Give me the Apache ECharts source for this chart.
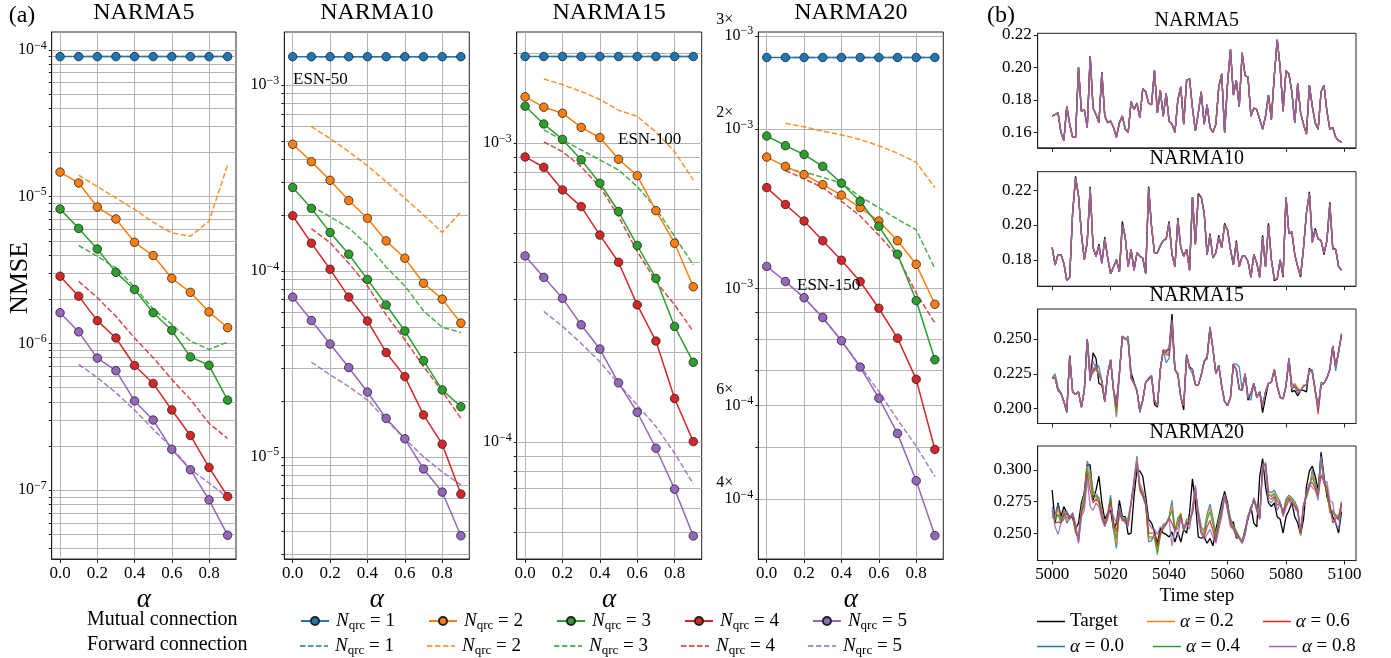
<!DOCTYPE html>
<html><head><meta charset="utf-8">
<script src="https://cdn.jsdelivr.net/npm/echarts@6/dist/echarts.min.js"></script>
<style>html,body{margin:0;padding:0;background:#fff}#c{width:1391px;height:658px}</style>
</head><body><div id="c"></div>
<script>
const FONT = "'Liberation Serif','DejaVu Serif',serif";
const COLORS = ['#1f77b4', '#ff7f0e', '#2ca02c', '#d62728', '#9467bd'];

// ---------- (a) NMSE vs alpha ----------
const alphaMutual = [0.0, 0.1, 0.2, 0.3, 0.4, 0.5, 0.6, 0.7, 0.8, 0.9];
const alphaForward = [0.1, 0.2, 0.3, 0.4, 0.5, 0.6, 0.7, 0.8, 0.9];
const xTicksA = [0.0, 0.2, 0.4, 0.6, 0.8];

const narma5_mutual_1 = [9.0e-5, 9.0e-5, 9.0e-5, 9.0e-5, 9.0e-5, 9.0e-5, 9.0e-5, 9.0e-5, 9.0e-5, 9.0e-5];
const narma5_mutual_2 = [1.47e-5, 1.24e-5, 8.5e-6, 7.05e-6, 4.89e-6, 3.97e-6, 2.78e-6, 2.23e-6, 1.64e-6, 1.28e-6];
const narma5_mutual_3 = [8.24e-6, 6.08e-6, 4.40e-6, 3.05e-6, 2.33e-6, 1.62e-6, 1.23e-6, 8.1e-7, 7.1e-7, 4.11e-7];
const narma5_mutual_4 = [2.87e-6, 2.10e-6, 1.43e-6, 1.09e-6, 7.08e-7, 5.34e-7, 3.52e-7, 2.36e-7, 1.43e-7, 9.06e-8];
const narma5_mutual_5 = [1.62e-6, 1.20e-6, 7.95e-7, 6.52e-7, 4.06e-7, 3.01e-7, 1.90e-7, 1.38e-7, 8.6e-8, 4.94e-8];
const narma5_forward_1 = [9.0e-5, 9.0e-5, 9.0e-5, 9.0e-5, 9.0e-5, 9.0e-5, 9.0e-5, 9.0e-5, 9.0e-5];
const narma5_forward_2 = [1.40e-5, 1.17e-5, 9.8e-6, 8.2e-6, 6.7e-6, 5.66e-6, 5.37e-6, 6.8e-6, 1.65e-5];
const narma5_forward_3 = [4.65e-6, 3.93e-6, 3.27e-6, 2.43e-6, 1.72e-6, 1.35e-6, 1.04e-6, 9.1e-7, 1.02e-6];
const narma5_forward_4 = [2.65e-6, 2.05e-6, 1.53e-6, 1.09e-6, 8.0e-7, 5.69e-7, 4.16e-7, 2.86e-7, 2.25e-7];
const narma5_forward_5 = [7.2e-7, 5.85e-7, 4.62e-7, 3.52e-7, 2.6e-7, 1.95e-7, 1.39e-7, 1.12e-7, 8.9e-8];

const narma10_mutual_1 = [1.42e-3, 1.42e-3, 1.42e-3, 1.42e-3, 1.42e-3, 1.42e-3, 1.42e-3, 1.42e-3, 1.42e-3, 1.42e-3];
const narma10_mutual_2 = [4.80e-4, 3.87e-4, 3.07e-4, 2.39e-4, 1.92e-4, 1.45e-4, 1.17e-4, 8.58e-5, 7.05e-5, 5.24e-5];
const narma10_mutual_3 = [2.81e-4, 2.17e-4, 1.61e-4, 1.23e-4, 9.0e-5, 6.56e-5, 4.75e-5, 3.29e-5, 2.29e-5, 1.86e-5];
const narma10_mutual_4 = [1.98e-4, 1.41e-4, 1.02e-4, 7.23e-5, 5.38e-5, 3.64e-5, 2.70e-5, 1.68e-5, 1.17e-5, 6.3e-6];
const narma10_mutual_5 = [7.23e-5, 5.41e-5, 4.04e-5, 3.02e-5, 2.23e-5, 1.61e-5, 1.25e-5, 8.6e-6, 6.46e-6, 3.76e-6];
const narma10_forward_1 = [1.42e-3, 1.42e-3, 1.42e-3, 1.42e-3, 1.42e-3, 1.42e-3, 1.42e-3, 1.42e-3, 1.42e-3];
const narma10_forward_2 = [5.97e-4, 5.16e-4, 4.38e-4, 3.68e-4, 3.02e-4, 2.46e-4, 2.0e-4, 1.61e-4, 2.08e-4];
const narma10_forward_3 = [2.23e-4, 1.96e-4, 1.70e-4, 1.38e-4, 1.05e-4, 8.3e-5, 6.1e-5, 4.98e-5, 4.66e-5];
const narma10_forward_4 = [1.69e-4, 1.42e-4, 1.10e-4, 8.3e-5, 5.8e-5, 4.26e-5, 3.06e-5, 2.25e-5, 1.61e-5];
const narma10_forward_5 = [3.23e-5, 2.76e-5, 2.39e-5, 2.02e-5, 1.58e-5, 1.25e-5, 1.0e-5, 8.3e-6, 7.06e-6];

const narma15_mutual_1 = [1.95e-3, 1.95e-3, 1.95e-3, 1.95e-3, 1.95e-3, 1.95e-3, 1.95e-3, 1.95e-3, 1.95e-3, 1.95e-3];
const narma15_mutual_2 = [1.43e-3, 1.32e-3, 1.26e-3, 1.13e-3, 1.045e-3, 8.84e-4, 7.79e-4, 5.95e-4, 4.63e-4, 3.31e-4];
const narma15_mutual_3 = [1.33e-3, 1.16e-3, 1.03e-3, 8.8e-4, 7.35e-4, 5.91e-4, 4.55e-4, 3.53e-4, 2.44e-4, 1.85e-4];
const narma15_mutual_4 = [9.0e-4, 8.31e-4, 6.98e-4, 6.14e-4, 4.93e-4, 4.0e-4, 2.88e-4, 2.18e-4, 1.40e-4, 1.005e-4];
const narma15_mutual_5 = [4.2e-4, 3.56e-4, 3.03e-4, 2.47e-4, 2.05e-4, 1.58e-4, 1.26e-4, 9.55e-5, 6.97e-5, 4.86e-5];
const narma15_forward_1 = [1.95e-3, 1.95e-3, 1.95e-3, 1.95e-3, 1.95e-3, 1.95e-3, 1.95e-3, 1.95e-3, 1.95e-3];
const narma15_forward_2 = [1.64e-3, 1.57e-3, 1.49e-3, 1.40e-3, 1.29e-3, 1.23e-3, 1.09e-3, 9.37e-4, 7.54e-4];
const narma15_forward_3 = [1.107e-3, 1.026e-3, 9.5e-4, 8.8e-4, 8.14e-4, 7.16e-4, 6.06e-4, 4.88e-4, 3.92e-4];
const narma15_forward_4 = [1.01e-3, 9.37e-4, 8.35e-4, 7.16e-4, 5.69e-4, 4.35e-4, 3.45e-4, 2.88e-4, 2.35e-4];
const narma15_forward_5 = [2.74e-4, 2.44e-4, 2.14e-4, 1.86e-4, 1.57e-4, 1.33e-4, 1.13e-4, 9.19e-5, 7.26e-5];

const narma20_mutual_1 = [2.73e-3, 2.73e-3, 2.73e-3, 2.73e-3, 2.73e-3, 2.73e-3, 2.73e-3, 2.73e-3, 2.73e-3, 2.73e-3];
const narma20_mutual_2 = [1.77e-3, 1.70e-3, 1.64e-3, 1.57e-3, 1.50e-3, 1.42e-3, 1.34e-3, 1.23e-3, 1.11e-3, 9.33e-4];
const narma20_mutual_3 = [1.94e-3, 1.86e-3, 1.79e-3, 1.70e-3, 1.58e-3, 1.46e-3, 1.31e-3, 1.16e-3, 9.48e-4, 7.33e-4];
const narma20_mutual_4 = [1.55e-3, 1.44e-3, 1.34e-3, 1.23e-3, 1.13e-3, 1.03e-3, 9.17e-4, 8.05e-4, 6.73e-4, 4.96e-4];
const narma20_mutual_5 = [1.10e-3, 1.03e-3, 9.6e-4, 8.81e-4, 7.96e-4, 7.1e-4, 6.2e-4, 5.32e-4, 4.33e-4, 3.41e-4];
const narma20_forward_1 = [2.73e-3, 2.73e-3, 2.73e-3, 2.73e-3, 2.73e-3, 2.73e-3, 2.73e-3, 2.73e-3, 2.73e-3];
const narma20_forward_2 = [2.05e-3, 2.02e-3, 1.98e-3, 1.95e-3, 1.91e-3, 1.86e-3, 1.80e-3, 1.73e-3, 1.55e-3];
const narma20_forward_3 = [1.68e-3, 1.66e-3, 1.62e-3, 1.58e-3, 1.49e-3, 1.42e-3, 1.35e-3, 1.29e-3, 1.09e-3];
const narma20_forward_4 = [1.67e-3, 1.61e-3, 1.55e-3, 1.46e-3, 1.37e-3, 1.26e-3, 1.15e-3, 9.79e-4, 8.6e-4];
const narma20_forward_5 = [1.03e-3, 9.6e-4, 8.78e-4, 7.96e-4, 7.13e-4, 6.38e-4, 5.65e-4, 5.03e-4, 4.41e-4];

// ---------- (b) time series ----------
const xTicksB = [5000, 5020, 5040, 5060, 5080, 5100];
const alphaLabels = ['0.0', '0.2', '0.4', '0.6', '0.8'];

const narma5_target = [0.170,0.171,0.172,0.160,0.155,0.176,0.165,0.157,0.157,0.200,0.173,0.174,0.163,0.207,0.175,0.171,0.166,0.197,0.170,0.166,0.167,0.163,0.157,0.166,0.170,0.162,0.160,0.179,0.174,0.178,0.169,0.187,0.185,0.178,0.177,0.198,0.172,0.186,0.170,0.184,0.167,0.165,0.160,0.180,0.188,0.165,0.192,0.193,0.175,0.161,0.172,0.185,0.165,0.177,0.163,0.160,0.165,0.188,0.196,0.160,0.190,0.211,0.183,0.192,0.176,0.209,0.195,0.194,0.170,0.175,0.174,0.168,0.162,0.170,0.183,0.168,0.195,0.217,0.200,0.173,0.198,0.196,0.185,0.166,0.190,0.172,0.165,0.159,0.189,0.176,0.166,0.162,0.185,0.189,0.173,0.162,0.163,0.157,0.155,0.154];
const narma10_target = [0.187,0.177,0.183,0.183,0.178,0.168,0.170,0.207,0.228,0.217,0.195,0.180,0.191,0.222,0.187,0.182,0.189,0.178,0.193,0.181,0.172,0.176,0.180,0.173,0.202,0.193,0.176,0.186,0.174,0.184,0.182,0.181,0.172,0.222,0.199,0.184,0.184,0.188,0.191,0.192,0.202,0.183,0.176,0.204,0.187,0.182,0.186,0.174,0.216,0.189,0.218,0.216,0.207,0.183,0.195,0.181,0.184,0.194,0.187,0.201,0.197,0.186,0.177,0.191,0.176,0.182,0.182,0.179,0.170,0.183,0.178,0.170,0.194,0.176,0.201,0.180,0.168,0.169,0.180,0.170,0.216,0.195,0.196,0.183,0.176,0.170,0.187,0.207,0.219,0.191,0.198,0.192,0.191,0.183,0.191,0.213,0.187,0.186,0.176,0.174];
const narma10_pred = [0.187,0.177,0.183,0.183,0.178,0.168,0.170,0.207,0.227,0.217,0.195,0.180,0.190,0.221,0.187,0.182,0.188,0.178,0.192,0.181,0.172,0.176,0.180,0.173,0.200,0.193,0.176,0.186,0.174,0.184,0.182,0.181,0.172,0.221,0.199,0.184,0.184,0.188,0.191,0.192,0.201,0.183,0.176,0.203,0.187,0.182,0.186,0.174,0.216,0.189,0.217,0.216,0.207,0.183,0.194,0.181,0.184,0.193,0.187,0.200,0.197,0.186,0.177,0.190,0.176,0.182,0.182,0.179,0.170,0.183,0.178,0.170,0.193,0.176,0.200,0.180,0.169,0.169,0.180,0.171,0.216,0.195,0.196,0.183,0.176,0.171,0.187,0.207,0.218,0.190,0.197,0.192,0.191,0.184,0.191,0.212,0.186,0.186,0.176,0.174];

const narma15_target = [0.222,0.222,0.213,0.211,0.205,0.198,0.238,0.212,0.210,0.212,0.201,0.213,0.250,0.220,0.240,0.236,0.218,0.217,0.205,0.225,0.235,0.213,0.204,0.225,0.252,0.250,0.249,0.226,0.219,0.213,0.198,0.206,0.219,0.221,0.223,0.203,0.201,0.228,0.242,0.241,0.243,0.268,0.228,0.225,0.208,0.199,0.238,0.230,0.228,0.217,0.217,0.224,0.234,0.236,0.258,0.243,0.225,0.231,0.216,0.205,0.202,0.208,0.232,0.228,0.214,0.213,0.225,0.206,0.211,0.218,0.208,0.212,0.197,0.208,0.218,0.219,0.228,0.216,0.208,0.207,0.216,0.236,0.212,0.213,0.209,0.213,0.213,0.212,0.229,0.226,0.213,0.201,0.217,0.218,0.222,0.228,0.245,0.230,0.241,0.253];
const narma15_a00 = [0.222,0.225,0.215,0.211,0.205,0.197,0.238,0.212,0.210,0.212,0.201,0.213,0.250,0.228,0.226,0.232,0.230,0.220,0.205,0.225,0.235,0.213,0.194,0.225,0.252,0.250,0.252,0.222,0.218,0.213,0.197,0.206,0.219,0.222,0.224,0.206,0.202,0.228,0.242,0.233,0.236,0.258,0.228,0.224,0.208,0.202,0.239,0.229,0.225,0.217,0.217,0.224,0.234,0.238,0.259,0.243,0.225,0.231,0.216,0.205,0.202,0.208,0.232,0.232,0.230,0.213,0.225,0.208,0.206,0.218,0.208,0.212,0.202,0.212,0.218,0.219,0.228,0.216,0.208,0.207,0.216,0.235,0.214,0.216,0.211,0.213,0.216,0.217,0.228,0.228,0.213,0.201,0.219,0.218,0.222,0.228,0.245,0.227,0.241,0.254];
const narma15_a02 = [0.222,0.223,0.213,0.211,0.205,0.198,0.238,0.212,0.210,0.212,0.201,0.213,0.250,0.224,0.229,0.230,0.226,0.220,0.205,0.225,0.235,0.213,0.196,0.225,0.252,0.250,0.250,0.222,0.218,0.213,0.198,0.206,0.219,0.221,0.223,0.206,0.202,0.228,0.242,0.242,0.244,0.260,0.228,0.225,0.208,0.202,0.238,0.229,0.228,0.217,0.217,0.224,0.234,0.236,0.258,0.243,0.225,0.231,0.216,0.205,0.202,0.208,0.232,0.228,0.214,0.213,0.225,0.208,0.211,0.218,0.208,0.212,0.202,0.212,0.218,0.219,0.228,0.216,0.208,0.207,0.216,0.236,0.214,0.218,0.215,0.213,0.217,0.217,0.228,0.226,0.213,0.201,0.217,0.218,0.222,0.228,0.245,0.230,0.241,0.253];
const narma15_a04 = [0.222,0.222,0.213,0.211,0.205,0.197,0.238,0.212,0.210,0.212,0.201,0.213,0.250,0.222,0.226,0.228,0.225,0.220,0.205,0.225,0.235,0.213,0.198,0.225,0.252,0.250,0.249,0.222,0.218,0.213,0.198,0.206,0.219,0.221,0.223,0.206,0.202,0.228,0.242,0.240,0.240,0.261,0.228,0.225,0.208,0.202,0.238,0.229,0.228,0.217,0.217,0.224,0.234,0.236,0.258,0.243,0.225,0.231,0.216,0.205,0.202,0.208,0.232,0.228,0.214,0.213,0.225,0.208,0.211,0.218,0.208,0.212,0.202,0.212,0.218,0.219,0.228,0.216,0.208,0.207,0.216,0.236,0.214,0.217,0.214,0.213,0.216,0.217,0.228,0.226,0.213,0.199,0.217,0.218,0.222,0.228,0.245,0.230,0.241,0.253];
const narma15_a06 = [0.222,0.222,0.213,0.211,0.205,0.198,0.238,0.212,0.210,0.212,0.201,0.213,0.250,0.221,0.228,0.229,0.224,0.220,0.205,0.225,0.235,0.213,0.201,0.225,0.252,0.250,0.249,0.222,0.218,0.213,0.198,0.206,0.219,0.221,0.223,0.206,0.202,0.228,0.242,0.239,0.238,0.262,0.228,0.225,0.208,0.202,0.239,0.229,0.228,0.217,0.217,0.224,0.234,0.236,0.258,0.243,0.225,0.231,0.216,0.205,0.202,0.208,0.232,0.228,0.214,0.213,0.225,0.208,0.211,0.218,0.208,0.212,0.202,0.212,0.218,0.219,0.228,0.216,0.208,0.207,0.216,0.236,0.218,0.216,0.213,0.213,0.216,0.217,0.228,0.226,0.213,0.196,0.217,0.218,0.222,0.228,0.245,0.230,0.241,0.253];
const narma15_a08 = [0.222,0.222,0.213,0.211,0.205,0.198,0.237,0.212,0.210,0.212,0.201,0.213,0.250,0.220,0.234,0.229,0.224,0.220,0.205,0.225,0.235,0.213,0.204,0.225,0.252,0.250,0.249,0.222,0.218,0.213,0.198,0.206,0.219,0.221,0.223,0.206,0.202,0.228,0.242,0.241,0.242,0.264,0.228,0.225,0.208,0.202,0.238,0.229,0.228,0.217,0.217,0.224,0.234,0.236,0.258,0.243,0.225,0.231,0.216,0.205,0.202,0.208,0.232,0.228,0.214,0.213,0.225,0.208,0.211,0.218,0.208,0.212,0.202,0.212,0.218,0.219,0.228,0.216,0.208,0.207,0.216,0.236,0.214,0.216,0.211,0.213,0.216,0.217,0.228,0.226,0.213,0.201,0.217,0.218,0.222,0.228,0.245,0.230,0.241,0.253];

const narma20_target = [0.284,0.258,0.274,0.263,0.271,0.266,0.263,0.262,0.253,0.258,0.274,0.282,0.304,0.304,0.276,0.284,0.295,0.274,0.261,0.266,0.268,0.253,0.258,0.276,0.263,0.263,0.249,0.250,0.279,0.300,0.299,0.295,0.279,0.261,0.258,0.251,0.242,0.254,0.250,0.249,0.247,0.251,0.243,0.251,0.243,0.253,0.250,0.266,0.293,0.274,0.247,0.246,0.247,0.242,0.246,0.240,0.253,0.263,0.274,0.283,0.274,0.258,0.259,0.246,0.247,0.243,0.253,0.261,0.271,0.258,0.255,0.295,0.309,0.287,0.274,0.271,0.274,0.263,0.261,0.250,0.263,0.268,0.274,0.263,0.258,0.249,0.261,0.287,0.299,0.303,0.295,0.284,0.314,0.295,0.279,0.271,0.263,0.258,0.250,0.267];
const narma20_a00 = [0.262,0.265,0.273,0.260,0.268,0.258,0.262,0.264,0.250,0.247,0.270,0.283,0.307,0.300,0.283,0.281,0.278,0.268,0.258,0.264,0.280,0.252,0.238,0.270,0.262,0.260,0.262,0.275,0.292,0.311,0.285,0.280,0.274,0.243,0.244,0.250,0.238,0.250,0.257,0.258,0.263,0.276,0.252,0.262,0.265,0.253,0.261,0.262,0.265,0.282,0.268,0.255,0.252,0.265,0.273,0.262,0.248,0.262,0.270,0.281,0.272,0.262,0.256,0.252,0.247,0.243,0.252,0.264,0.270,0.276,0.268,0.262,0.300,0.306,0.283,0.282,0.284,0.279,0.275,0.265,0.277,0.280,0.278,0.275,0.270,0.248,0.273,0.278,0.286,0.300,0.290,0.282,0.308,0.292,0.285,0.266,0.268,0.264,0.260,0.275];
const narma20_a02 = [0.264,0.262,0.270,0.259,0.267,0.260,0.262,0.265,0.251,0.246,0.268,0.280,0.303,0.296,0.281,0.280,0.277,0.267,0.257,0.265,0.277,0.254,0.242,0.267,0.261,0.261,0.260,0.274,0.290,0.309,0.284,0.279,0.272,0.245,0.246,0.248,0.236,0.249,0.256,0.257,0.262,0.272,0.252,0.260,0.266,0.252,0.259,0.261,0.266,0.284,0.266,0.253,0.250,0.263,0.270,0.260,0.246,0.260,0.268,0.280,0.271,0.260,0.255,0.251,0.247,0.243,0.251,0.263,0.269,0.277,0.268,0.262,0.302,0.305,0.281,0.280,0.282,0.277,0.274,0.266,0.276,0.279,0.277,0.273,0.269,0.249,0.272,0.279,0.287,0.297,0.289,0.281,0.309,0.291,0.283,0.268,0.267,0.265,0.262,0.274];
const narma20_a04 = [0.266,0.260,0.265,0.258,0.266,0.262,0.262,0.266,0.253,0.245,0.266,0.277,0.300,0.292,0.278,0.279,0.276,0.265,0.256,0.266,0.278,0.256,0.246,0.266,0.260,0.262,0.259,0.274,0.289,0.306,0.284,0.279,0.272,0.247,0.247,0.246,0.233,0.248,0.255,0.257,0.262,0.268,0.252,0.258,0.265,0.252,0.258,0.260,0.267,0.285,0.264,0.251,0.249,0.260,0.267,0.257,0.245,0.259,0.267,0.279,0.270,0.259,0.254,0.250,0.247,0.243,0.250,0.263,0.268,0.277,0.269,0.262,0.303,0.304,0.280,0.279,0.281,0.275,0.274,0.266,0.275,0.278,0.276,0.272,0.268,0.250,0.272,0.280,0.288,0.294,0.288,0.280,0.310,0.290,0.282,0.270,0.266,0.264,0.263,0.274];
const narma20_a06 = [0.268,0.258,0.259,0.258,0.264,0.265,0.261,0.266,0.255,0.243,0.265,0.273,0.297,0.284,0.274,0.277,0.274,0.263,0.256,0.264,0.275,0.259,0.251,0.268,0.260,0.260,0.257,0.274,0.289,0.306,0.286,0.281,0.273,0.250,0.250,0.250,0.240,0.251,0.254,0.257,0.262,0.258,0.252,0.254,0.263,0.253,0.258,0.257,0.268,0.286,0.263,0.250,0.247,0.255,0.260,0.252,0.243,0.256,0.265,0.279,0.269,0.257,0.253,0.249,0.246,0.242,0.249,0.263,0.268,0.277,0.270,0.261,0.304,0.304,0.278,0.277,0.279,0.272,0.274,0.265,0.272,0.277,0.274,0.271,0.268,0.251,0.271,0.281,0.289,0.290,0.285,0.279,0.296,0.290,0.286,0.273,0.258,0.262,0.262,0.273];
const narma20_a08 = [0.271,0.255,0.249,0.258,0.261,0.268,0.261,0.266,0.258,0.242,0.263,0.268,0.293,0.271,0.268,0.274,0.271,0.261,0.255,0.261,0.271,0.263,0.258,0.271,0.261,0.258,0.255,0.274,0.289,0.307,0.289,0.284,0.274,0.258,0.254,0.253,0.249,0.255,0.253,0.258,0.261,0.240,0.253,0.247,0.261,0.254,0.257,0.253,0.271,0.288,0.261,0.250,0.245,0.249,0.253,0.247,0.242,0.253,0.263,0.279,0.268,0.255,0.253,0.247,0.246,0.242,0.249,0.263,0.268,0.278,0.271,0.261,0.305,0.303,0.276,0.274,0.278,0.268,0.274,0.263,0.270,0.276,0.271,0.269,0.267,0.253,0.271,0.283,0.289,0.286,0.284,0.276,0.311,0.289,0.291,0.276,0.274,0.258,0.253,0.271];

// ---------- layout ----------
const panelsA = [
  { name: 'NARMA5', left: 51.7, width: 184.3, yMin: 3.40e-8, yMax: 1.324e-4, yLabels: [1e-7, 1e-6, 1e-5, 1e-4],
    mutual: [narma5_mutual_1, narma5_mutual_2, narma5_mutual_3, narma5_mutual_4, narma5_mutual_5],
    forward: [narma5_forward_1, narma5_forward_2, narma5_forward_3, narma5_forward_4, narma5_forward_5] },
  { name: 'NARMA10', left: 284.3, width: 185, yMin: 2.82e-6, yMax: 1.928e-3, yLabels: [1e-5, 1e-4, 1e-3],
    mutual: [narma10_mutual_1, narma10_mutual_2, narma10_mutual_3, narma10_mutual_4, narma10_mutual_5],
    forward: [narma10_forward_1, narma10_forward_2, narma10_forward_3, narma10_forward_4, narma10_forward_5] },
  { name: 'NARMA15', left: 516.7, width: 185, yMin: 4.07e-5, yMax: 2.355e-3, yLabels: [1e-4, 1e-3],
    mutual: [narma15_mutual_1, narma15_mutual_2, narma15_mutual_3, narma15_mutual_4, narma15_mutual_5],
    forward: [narma15_forward_1, narma15_forward_2, narma15_forward_3, narma15_forward_4, narma15_forward_5] },
  { name: 'NARMA20', left: 758.3, width: 185, yMin: 3.08e-4, yMax: 3.05e-3, yLabels: [4e-4, 6e-4, 1e-3, 2e-3, 3e-3],
    mutual: [narma20_mutual_1, narma20_mutual_2, narma20_mutual_3, narma20_mutual_4, narma20_mutual_5],
    forward: [narma20_forward_1, narma20_forward_2, narma20_forward_3, narma20_forward_4, narma20_forward_5] }
];
const TOP_A = 32, H_A = 527;

const panelsB = [
  { name: 'NARMA5', top: 33.3, yMin: 0.1505, yMax: 0.221, yTicks: [0.16, 0.18, 0.20, 0.22], dec: 2,
    target: narma5_target, preds: [narma5_target, narma5_target, narma5_target, narma5_target, narma5_target] },
  { name: 'NARMA10', top: 171.7, yMin: 0.1648, yMax: 0.2306, yTicks: [0.18, 0.20, 0.22], dec: 2,
    target: narma10_target, preds: [narma10_pred, narma10_pred, narma10_pred, narma10_pred, narma10_pred] },
  { name: 'NARMA15', top: 309, yMin: 0.1892, yMax: 0.2716, yTicks: [0.200, 0.225, 0.250], dec: 3,
    target: narma15_target, preds: [narma15_a00, narma15_a02, narma15_a04, narma15_a06, narma15_a08] },
  { name: 'NARMA20', top: 446, yMin: 0.2284, yMax: 0.3189, yTicks: [0.250, 0.275, 0.300], dec: 3,
    target: narma20_target, preds: [narma20_a00, narma20_a02, narma20_a04, narma20_a06, narma20_a08] }
];
const LEFT_B = 1037.7, W_B = 318.3, H_B = 114.5;
const timeSteps = narma5_target.map((_, i) => 5000 + i);

function logTicks(lo, hi) {
  const out = [];
  for (let e = Math.floor(Math.log10(lo)); e <= Math.ceil(Math.log10(hi)); e++) {
    for (let m = 1; m < 10; m++) {
      const v = m * Math.pow(10, e);
      if (v >= lo && v <= hi) out.push(v);
    }
  }
  return out;
}
function logLabel(v) {
  const e = Math.floor(Math.log10(v) + 1e-9);
  const m = Math.round(v / Math.pow(10, e));
  const ex = '{b|10}{s|\u2212' + (-e) + '}';
  if (m === 1) return ex;
  return '{m|' + m + '\u00d7}\n' + ex + '\n{m| }';
}
const logRich = {
  b: { fontFamily: FONT, fontSize: 16, color: '#000', lineHeight: 16 },
  s: { fontFamily: FONT, fontSize: 12, color: '#000', lineHeight: 16, padding: [0, 0, 9, 0] },
  m: { fontFamily: FONT, fontSize: 16, color: '#000', lineHeight: 16, padding: [0, 20, 0, 0] }
};
const AX = '#222', GRIDC = '#b4b4b4';

const grid = [], xAxis = [], yAxis = [], series = [], graphic = [];

panelsA.forEach((p, k) => {
  grid.push({ left: p.left, top: TOP_A, width: p.width, height: H_A, show: true, borderColor: AX, borderWidth: 1, backgroundColor: 'transparent' });
  xAxis.push({
    type: 'value', gridIndex: k, min: -0.045, max: 0.945,
    axisLine: { show: true, onZero: false, lineStyle: { color: AX, width: 1 } },
    axisTick: { show: true, customValues: xTicksA, length: 4, lineStyle: { color: AX } },
    axisLabel: { customValues: xTicksA, formatter: v => v.toFixed(1), fontFamily: FONT, fontSize: 17, color: '#000', margin: 6 },
    splitLine: { show: true, lineStyle: { color: GRIDC, width: 1 } },
    name: '\u03b1', nameLocation: 'middle', nameGap: 23,
    nameTextStyle: { fontFamily: FONT, fontSize: 27, fontStyle: 'italic', color: '#000' }
  });
  yAxis.push({
    type: 'log', logBase: 10, gridIndex: k, min: p.yMin, max: p.yMax,
    axisLine: { show: true, onZero: false, lineStyle: { color: AX, width: 1 } },
    axisTick: { show: true, customValues: logTicks(p.yMin, p.yMax), length: 3, lineStyle: { color: AX } },
    axisLabel: { customValues: p.yLabels, formatter: logLabel, rich: logRich, margin: 5, color: '#000' },
    splitLine: { show: true, lineStyle: { color: GRIDC, width: 1 } },
    minorTick: { show: false }, minorSplitLine: { show: false }
  });
  p.forward.forEach((arr, n) => {
    series.push({
      type: 'line', name: 'Forward ' + (n + 1), xAxisIndex: k, yAxisIndex: k,
      data: alphaForward.map((a, i) => [a, arr[i]]),
      symbol: 'none', showSymbol: false,
      lineStyle: { color: COLORS[n], width: 1.5, type: [5.5, 2.4], opacity: 0.85 },
      itemStyle: { color: COLORS[n] }, z: 2, animation: false, silent: true
    });
  });
  p.mutual.forEach((arr, n) => {
    series.push({
      type: 'line', name: 'Mutual ' + (n + 1), xAxisIndex: k, yAxisIndex: k,
      data: alphaMutual.map((a, i) => [a, arr[i]]),
      symbol: 'circle', symbolSize: 8.5, showSymbol: true,
      lineStyle: { color: COLORS[n], width: 1.5 },
      itemStyle: { color: COLORS[n], borderColor: '#222', borderWidth: 0.8 },
      z: 3, animation: false, silent: true
    });
  });
  graphic.push({ type: 'text', x: p.left + p.width / 2, y: 13,
    style: { text: p.name, fontFamily: FONT, fontSize: 24, fill: '#000', textAlign: 'center', textVerticalAlign: 'middle' } });
});

panelsB.forEach((p, j) => {
  const k = panelsA.length + j;
  const last = j === panelsB.length - 1;
  grid.push({ left: LEFT_B, top: p.top, width: W_B, height: H_B, show: true, borderColor: AX, borderWidth: 1, backgroundColor: 'transparent' });
  xAxis.push({
    type: 'value', gridIndex: k, min: 4995.05, max: 5103.95,
    axisLine: { show: true, onZero: false, lineStyle: { color: AX } },
    axisTick: { show: true, customValues: xTicksB, length: 4, lineStyle: { color: AX } },
    axisLabel: { show: last, customValues: xTicksB, formatter: v => String(Math.round(v)), fontFamily: FONT, fontSize: 17, color: '#000', margin: 6 },
    splitLine: { show: false },
    name: last ? 'Time step' : '', nameLocation: 'middle', nameGap: 26,
    nameTextStyle: { fontFamily: FONT, fontSize: 19, color: '#000' }
  });
  yAxis.push({
    type: 'value', gridIndex: k, min: p.yMin, max: p.yMax,
    axisLine: { show: true, onZero: false, lineStyle: { color: AX } },
    axisTick: { show: true, customValues: p.yTicks, length: 4, lineStyle: { color: AX } },
    axisLabel: { customValues: p.yTicks, formatter: v => v.toFixed(p.dec), fontFamily: FONT, fontSize: 17, color: '#000', margin: 6 },
    splitLine: { show: false }
  });
  series.push({
    type: 'line', name: 'Target', xAxisIndex: k, yAxisIndex: k,
    data: timeSteps.map((t, i) => [t, p.target[i]]), symbol: 'none', showSymbol: false,
    lineStyle: { color: '#000', width: 1.3 }, itemStyle: { color: '#000' }, z: 2, animation: false, silent: true
  });
  p.preds.forEach((arr, n) => {
    series.push({
      type: 'line', name: '\u03b1 = ' + alphaLabels[n], xAxisIndex: k, yAxisIndex: k,
      data: timeSteps.map((t, i) => [t, arr[i]]), symbol: 'none', showSymbol: false,
      lineStyle: { color: COLORS[n], width: 1.3, opacity: 0.85 }, itemStyle: { color: COLORS[n] },
      z: 3 + n, animation: false, silent: true
    });
  });
  graphic.push({ type: 'text', x: LEFT_B + W_B / 2, y: p.top - 13,
    style: { text: p.name, fontFamily: FONT, fontSize: 20, fill: '#000', textAlign: 'center', textVerticalAlign: 'middle' } });
});

// annotations
const notes = [
  { text: 'ESN-50', x: 293, y: 80 },
  { text: 'ESN-100', x: 618, y: 140 },
  { text: 'ESN-150', x: 797, y: 286 }
];
notes.forEach(n => graphic.push({ type: 'text', x: n.x, y: n.y, z: 10,
  style: { text: n.text, fontFamily: FONT, fontSize: 17, fill: '#000', textAlign: 'left', textVerticalAlign: 'middle' } }));
graphic.push({ type: 'text', x: 22, y: 16, style: { text: '(a)', fontFamily: FONT, fontSize: 24, fill: '#000', textAlign: 'center', textVerticalAlign: 'middle' } });
graphic.push({ type: 'text', x: 1001, y: 16, style: { text: '(b)', fontFamily: FONT, fontSize: 24, fill: '#000', textAlign: 'center', textVerticalAlign: 'middle' } });
graphic.push({ type: 'text', x: 20, y: 278, rotation: Math.PI / 2,
  style: { text: 'NMSE', fontFamily: FONT, fontSize: 26, fill: '#000', textAlign: 'center', textVerticalAlign: 'middle' } });
graphic.push({ type: 'text', x: 87, y: 620, style: { text: 'Mutual connection', fontFamily: FONT, fontSize: 20, fill: '#000', textAlign: 'left', textVerticalAlign: 'middle' } });
graphic.push({ type: 'text', x: 87, y: 645, style: { text: 'Forward connection', fontFamily: FONT, fontSize: 20, fill: '#000', textAlign: 'left', textVerticalAlign: 'middle' } });

const legRichA = {
  n: { fontFamily: FONT, fontSize: 19, fontStyle: 'italic', color: '#000', lineHeight: 20 },
  s: { fontFamily: FONT, fontSize: 13, color: '#000', lineHeight: 20, padding: [9, 0, 0, 0] },
  t: { fontFamily: FONT, fontSize: 19, color: '#000', lineHeight: 20 }
};
const legRichB = {
  i: { fontFamily: FONT, fontSize: 19, fontStyle: 'italic', color: '#000', lineHeight: 20 },
  t: { fontFamily: FONT, fontSize: 19, color: '#000', lineHeight: 20 }
};
const dashIcon = 'path://M0,0h5.5v1.5h-5.5zM8,0h5.5v1.5h-5.5zM16,0h5.5v1.5h-5.5zM24,0h4v1.5h-4z';
const solidIcon = 'path://M0,0h28v1.5h-28z';
const legendA = (prefix, top, icon) => ({
  data: [1, 2, 3, 4, 5].map(n => icon ? { name: prefix + n, icon: icon } : { name: prefix + n }),
  left: 300, top: top, orient: 'horizontal', itemWidth: 28, itemHeight: 10, itemGap: 33,
  selectedMode: false, padding: 0,
  formatter: name => '{n|N}{s|qrc}{t| = ' + name.slice(-1) + '}',
  textStyle: { fontFamily: FONT, fontSize: 19, color: '#000', rich: legRichA, padding: [0, 0, 0, 2] }
});
const legendB = (names, top) => ({
  data: names.map(n => ({ name: n, icon: solidIcon })),
  left: 1037, top: top, orient: 'horizontal', itemWidth: 28, itemHeight: 10, itemGap: 29,
  selectedMode: false, padding: 0,
  formatter: name => name === 'Target' ? '{t|Target}' : '{i|\u03b1}{t|' + name.slice(1) + '}',
  textStyle: { fontFamily: FONT, fontSize: 19, color: '#000', rich: legRichB, width: 60 }
});

const option = {
  animation: false,
  textStyle: { fontFamily: FONT },
  grid, xAxis, yAxis, series, graphic,
  legend: [
    legendA('Mutual ', 610, null),
    legendA('Forward ', 635, dashIcon),
    legendB(['Target', '\u03b1 = 0.2', '\u03b1 = 0.6'], 612),
    legendB(['\u03b1 = 0.0', '\u03b1 = 0.4', '\u03b1 = 0.8'], 637)
  ]
};
const chart = echarts.init(document.getElementById('c'), null, { renderer: 'canvas' });
chart.setOption(option);
</script>
</body></html>
